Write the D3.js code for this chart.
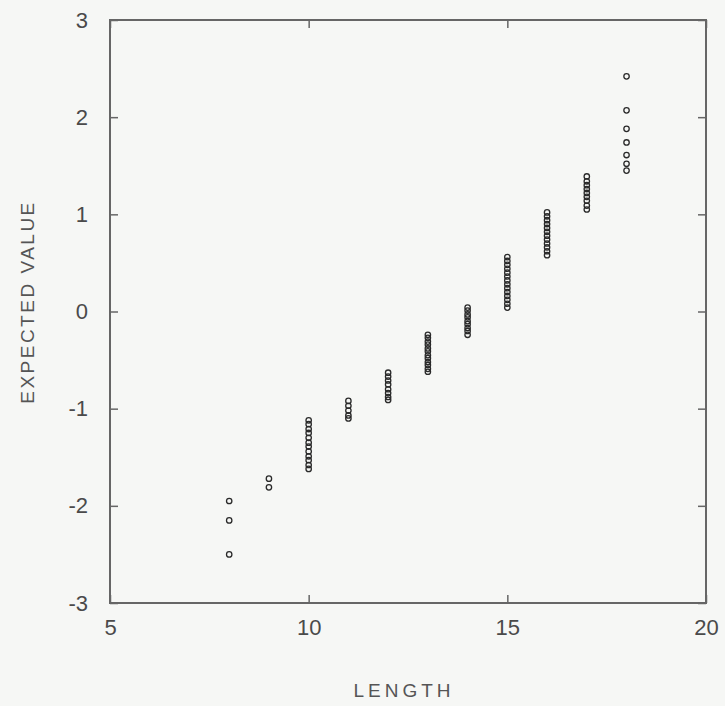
<!DOCTYPE html>
<head>
  <meta charset="utf-8">
  <title>Expected value vs length</title>
  <script src="https://cdn.jsdelivr.net/npm/d3@7"></script>
  <style>
  body { margin: 0; background: #f6f7f5; }
  .tick text { font-family: "Liberation Sans", Arial, sans-serif; font-size: 22px; fill: #4a4a4a; }
  .axis-label { font-family: "Liberation Sans", Arial, sans-serif; font-size: 19px; fill: #555; }
  .pts circle { fill: none; stroke: #2a2a2a; stroke-width: 1.3px; }
  </style>
</head>
<body>
<script>
var WIDTH = 725, HEIGHT = 706;
var margin = {top: 20, right: 19, bottom: 103, left: 110};

// data: one column of expected values per length
var lengths = [8, 9, 10, 11, 12, 13, 14, 15, 16, 17, 18];
var expected = [
  [-1.95, -2.15, -2.5],
  [-1.72, -1.81],
  [-1.12, -1.16, -1.21, -1.25, -1.3, -1.35, -1.39, -1.44, -1.49, -1.53, -1.58, -1.62],
  [-0.92, -0.97, -1.02, -1.07, -1.1],
  [-0.63, -0.67, -0.71, -0.75, -0.8, -0.84, -0.88, -0.91],
  [-0.24, -0.27, -0.31, -0.34, -0.38, -0.41, -0.45, -0.48, -0.52, -0.55, -0.59, -0.62],
  [0.04, 0.01, -0.03, -0.06, -0.1, -0.13, -0.17, -0.2, -0.24],
  [0.56, 0.52, 0.48, 0.44, 0.4, 0.36, 0.32, 0.28, 0.24, 0.2, 0.16, 0.12, 0.08, 0.04],
  [1.02, 0.98, 0.94, 0.9, 0.86, 0.82, 0.78, 0.74, 0.7, 0.66, 0.62, 0.58],
  [1.39, 1.34, 1.3, 1.26, 1.22, 1.18, 1.14, 1.09, 1.05],
  [2.42, 2.07, 1.88, 1.74, 1.61, 1.52, 1.45]
];
var xTicks = [5, 10, 15, 20];
var yTicks = [-3, -2, -1, 0, 1, 2, 3];

var points = [];
lengths.forEach(function(len, i){
  expected[i].forEach(function(v){ points.push({x: len, y: v}); });
});

var w = WIDTH - margin.left - margin.right;
var h = HEIGHT - margin.top - margin.bottom;

var svg = d3.select("body").append("svg")
            .attr("width", WIDTH)
            .attr("height", HEIGHT);
var g = svg.append("g").attr("transform", "translate(" + margin.left + "," + margin.top + ")");

var x = d3.scaleLinear().domain([5, 20]).range([0, w]);
var y = d3.scaleLinear().domain([-3, 3]).range([h, 0]);

// frame
g.append("rect")
  .attr("width", w).attr("height", h)
  .attr("fill", "none").attr("stroke", "#666").attr("stroke-width", 2);

function styleAxis(sel){
  sel.select(".domain").remove();
  sel.selectAll(".tick line").attr("stroke", "#666").attr("stroke-width", 1.5);
}
var fmt = function(d){ return String(d); };   // plain hyphen, like the original

g.append("g").attr("transform", "translate(0," + h + ")")
  .call(d3.axisBottom(x).tickValues(xTicks).tickSizeInner(-8).tickPadding(30).tickFormat(fmt))
  .call(styleAxis)
  .selectAll(".tick text").attr("dy", "0.1em");
g.append("g")
  .call(d3.axisTop(x).tickValues(xTicks).tickSizeInner(-8).tickFormat(""))
  .call(styleAxis);
g.append("g")
  .call(d3.axisLeft(y).tickValues(yTicks).tickSizeInner(-8).tickPadding(22).tickFormat(fmt))
  .call(styleAxis);
g.append("g").attr("transform", "translate(" + w + ",0)")
  .call(d3.axisRight(y).tickValues(yTicks).tickSizeInner(-8).tickFormat(""))
  .call(styleAxis);

g.append("g").attr("class", "pts")
  .selectAll("circle")
  .data(points)
  .enter()
  .append("circle")
  .attr("cx", function(d){ return x(d.x); })
  .attr("cy", function(d){ return y(d.y); })
  .attr("r", 2.7);

svg.append("text").attr("class", "axis-label")
  .attr("x", 404).attr("y", 697)
  .attr("text-anchor", "middle").attr("letter-spacing", 4).text("LENGTH");
svg.append("text").attr("class", "axis-label")
  .attr("transform", "translate(34,302) rotate(-90)")
  .attr("text-anchor", "middle").attr("letter-spacing", 2.5).text("EXPECTED VALUE");
</script>
</body>
